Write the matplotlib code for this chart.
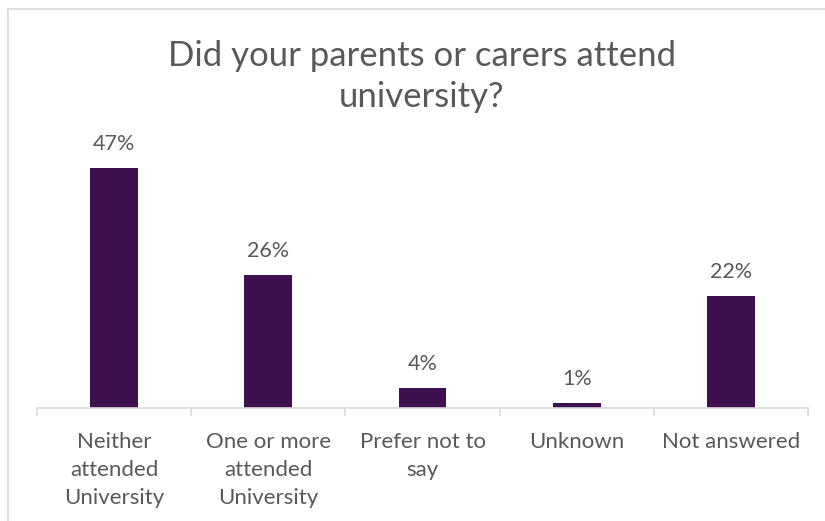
import matplotlib
matplotlib.use("Agg")
import matplotlib.pyplot as plt
from matplotlib.lines import Line2D

# 回答カテゴリと割合（%）
categories = ["Neither\nattended\nUniversity", "One or more\nattended\nUniversity",
              "Prefer not to\nsay", "Unknown", "Not answered"]
values = [47, 26, 4, 1, 22]
value_labels = ["47%", "26%", "4%", "1%", "22%"]

BAR_COLOR = "#3F1050"
TEXT_COLOR = "#595959"
LINE_COLOR = "#D9D9D9"
FONT = ["Lato", "DejaVu Sans"]

W, H = 825, 521
fig = plt.figure(figsize=(W / 100, H / 100), dpi=100)
plt.rcParams["font.family"] = FONT

# チャート枠（左と上だけ見える）
fig.add_artist(Line2D([7.5 / W, 7.5 / W], [0, 1 - 8.5 / H], color=LINE_COLOR, lw=1.2,
                      transform=fig.transFigure))
fig.add_artist(Line2D([7.5 / W, 1], [1 - 8.5 / H, 1 - 8.5 / H], color=LINE_COLOR, lw=1.2,
                      transform=fig.transFigure))

left, right = 37 / W, 808 / W
bottom = (H - 408) / H
top = (H - 153) / H
ax = fig.add_axes([left, bottom, right - left, top - bottom])

x = list(range(len(categories)))
ax.bar(x, values, width=0.31, color=BAR_COLOR)
ax.set_xlim(-0.5, len(categories) - 0.5)
ax.set_ylim(0, 50)

for xi, v, lab in zip(x, values, value_labels):
    ax.annotate(lab, (xi, v), xytext=(0, 13), textcoords="offset points",
                ha="center", va="baseline", fontsize=15.5, color=TEXT_COLOR)

for s in ["top", "right", "left"]:
    ax.spines[s].set_visible(False)
ax.spines["bottom"].set_color(LINE_COLOR)
ax.spines["bottom"].set_linewidth(1.2)
ax.set_yticks([])

ax.set_xticks(x)
ax.set_xticklabels(categories, fontsize=16, color=TEXT_COLOR, linespacing=1.5, va="top")
ax.tick_params(axis="x", which="major", length=0, pad=17)
ax.set_xticks([i - 0.5 for i in range(len(categories) + 1)], minor=True)
ax.tick_params(axis="x", which="minor", length=6, width=1.2, color=LINE_COLOR, direction="out")

fig.text(0.5115, 1 - 76.5 / H, "Did your parents or carers attend\nuniversity?",
         ha="center", va="center", fontsize=25, color=TEXT_COLOR, linespacing=1.33)

fig.savefig("out.png", dpi=100)
